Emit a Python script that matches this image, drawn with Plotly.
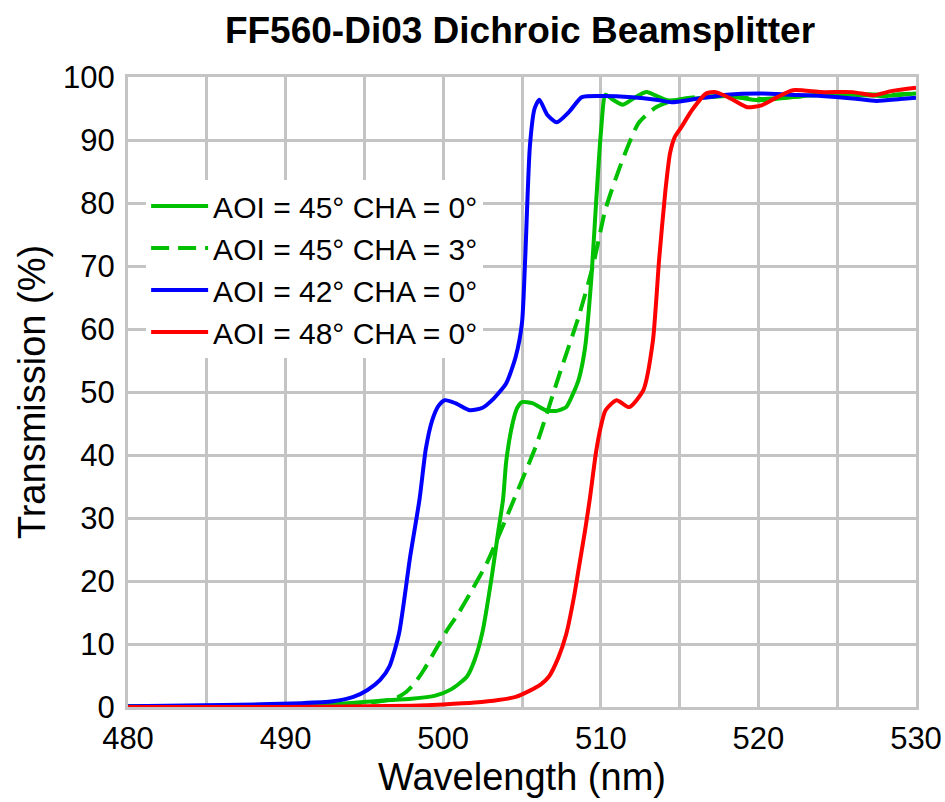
import plotly.graph_objects as go

# ---- data ----
wl_42 = [480, 486, 491, 493, 494.3, 495.2, 496, 496.6, 497.2, 497.9, 498.5, 498.9, 499.3, 499.7,
         500.1, 500.8, 501.7, 502.5, 503.1, 504, 504.6, 505.0, 505.2, 505.5, 505.8, 506.1, 506.6,
         507.2, 508, 508.8, 510, 512, 513.5, 514.5, 516, 518, 520, 522, 524, 526, 527.5, 529, 530]
t_42 = [0.1, 0.3, 0.6, 0.9, 1.6, 2.7, 4.3, 6.5, 11.7, 23.8, 33, 41, 45.5, 47.8,
        48.7, 48.2, 47.1, 47.5, 48.7, 51.4, 55.6, 61, 71, 89, 95, 96.4, 94,
        92.8, 94.5, 96.8, 97, 96.8, 96.4, 96, 96.5, 97.2, 97.4, 97.2, 97, 96.6, 96.2, 96.5, 96.7]

wl_45 = [480, 488, 492, 494, 496, 498, 499.5, 500.5, 501.5, 502, 502.5, 503.1, 503.5, 503.8, 504,
         504.4, 504.7, 505, 505.7, 506.5, 507.2, 507.8, 508.2, 508.6, 509.0, 509.4, 509.7, 510.0,
         510.3, 510.7, 511.4, 512.2, 512.9, 514.2, 516, 518, 520, 522, 524, 526, 528, 530]
t_45 = [0.1, 0.2, 0.4, 0.6, 1.0, 1.3, 1.8, 2.8, 4.8, 7.5, 12, 21, 28, 33, 39,
        45, 47.5, 48.4, 48.2, 47.1, 47.0, 47.6, 49.5, 52, 57, 68, 80, 91,
        97.2, 96.5, 95.6, 96.8, 97.6, 96.3, 96.6, 97.0, 96.3, 96.8, 97.2, 97.2, 97.0, 97.4]

wl_45c3 = [480, 488, 492, 494, 496, 497, 497.6, 498.2, 498.8, 499.5, 500.2, 501, 501.7, 502.8, 504, 505,
           505.9, 506.5, 507.4, 508.6, 509.5, 510.3, 511.4, 512.4, 513.5, 514.5, 516, 518, 520,
           522, 524, 526, 528, 530]
t_45c3 = [0.1, 0.2, 0.3, 0.5, 0.9, 1.4, 2.3, 3.8, 6, 9, 12, 15, 18, 23, 30, 36,
          41.5, 46, 53, 62, 70, 79, 87, 92.7, 95.2, 96.2, 96.8, 97.0, 96.5,
          96.8, 97.2, 97.3, 97.2, 97.4]

wl_48 = [480, 490, 495, 498, 500, 502, 503.5, 504.6, 505.5, 506.2, 506.7, 507.3, 507.8, 508.3, 508.6,
         509.0, 509.3, 509.7, 510.0, 510.3, 511, 511.8, 512.7, 513.3, 513.7, 514.1, 514.4, 514.7, 515.1,
         515.8, 516.7, 517.3, 518.3, 519.3, 520.2, 521.2, 522.2, 524, 526, 527.3, 528.5, 530]
t_48 = [0, 0, 0.1, 0.2, 0.4, 0.7, 1.1, 1.6, 2.6, 3.6, 4.8, 7.8, 11.5, 17.5, 22,
        28, 33, 40.5, 44.5, 47.1, 48.7, 47.6, 50.3, 58, 71, 82, 88, 90.5, 92,
        94.8, 97.4, 97.6, 96.5, 95.2, 95.5, 96.8, 97.9, 97.6, 97.6, 97.1, 97.8, 98.3]

names = ["AOI = 45° CHA = 0°", "AOI = 45° CHA = 3°", "AOI = 42° CHA = 0°", "AOI = 48° CHA = 0°"]

x_tickvals = [480, 485, 490, 495, 500, 505, 510, 515, 520, 525, 530]
x_ticktext = ["480", "", "490", "", "500", "", "510", "", "520", "", "530"]
y_tickvals = [0, 10, 20, 30, 40, 50, 60, 70, 80, 90, 100]

GREEN = "rgb(0,192,0)"
FONT = "Arial, Liberation Sans, sans-serif"
GRID = "#c4c4c4"

fig = go.Figure()
series = [
    (wl_45, t_45, names[0], GREEN, "solid"),
    (wl_45c3, t_45c3, names[1], GREEN, "18px,9px"),
    (wl_42, t_42, names[2], "rgb(0,0,255)", "solid"),
    (wl_48, t_48, names[3], "rgb(255,0,0)", "solid"),
]
for i, (x, y, n, c, d) in enumerate(series):
    fig.add_trace(go.Scatter(
        x=x, y=y, name=n, mode="lines",
        line=dict(color=c, width=4, dash=d, shape="spline", smoothing=0.6),
        legendrank=i + 1,
    ))

fig.update_layout(
    width=945, height=802,
    margin=dict(l=128, r=29, t=77, b=95),
    paper_bgcolor="white", plot_bgcolor="white",
    font=dict(family=FONT, color="black", size=30),
    title=dict(text="<b>FF560-Di03 Dichroic Beamsplitter</b>",
               x=520 / 945, xanchor="center",
               y=1 - 30 / 802, yanchor="middle", yref="container",
               font=dict(family=FONT, size=37, color="black")),
    showlegend=True,
    legend=dict(x=0.023, y=0.8365, xanchor="left", yanchor="top",
                bgcolor="white", borderwidth=0,
                font=dict(family=FONT, size=30, color="black"),
                itemwidth=57, tracegroupgap=0),
)
fig.update_xaxes(
    range=[480, 530], tickmode="array", tickvals=x_tickvals, ticktext=x_ticktext,
    showgrid=True, gridcolor=GRID, gridwidth=3,
    showline=True, linecolor=GRID, linewidth=3, mirror=True,
    ticks="", zeroline=False, ticklabelstandoff=2, automargin=False,
    tickfont=dict(family=FONT, size=31, color="black"),
    title=dict(text="Wavelength (nm)", font=dict(family=FONT, size=38, color="black"), standoff=2),
)
fig.update_yaxes(
    range=[0, 100], tickmode="array", tickvals=y_tickvals,
    showgrid=True, gridcolor=GRID, gridwidth=3,
    showline=True, linecolor=GRID, linewidth=3, mirror=True,
    ticks="", zeroline=False, ticklabelstandoff=4, automargin=False,
    tickfont=dict(family=FONT, size=31, color="black"),
    title=dict(text="Transmission (%)", font=dict(family=FONT, size=38, color="black"), standoff=6),
)

fig.write_html("out.html")
